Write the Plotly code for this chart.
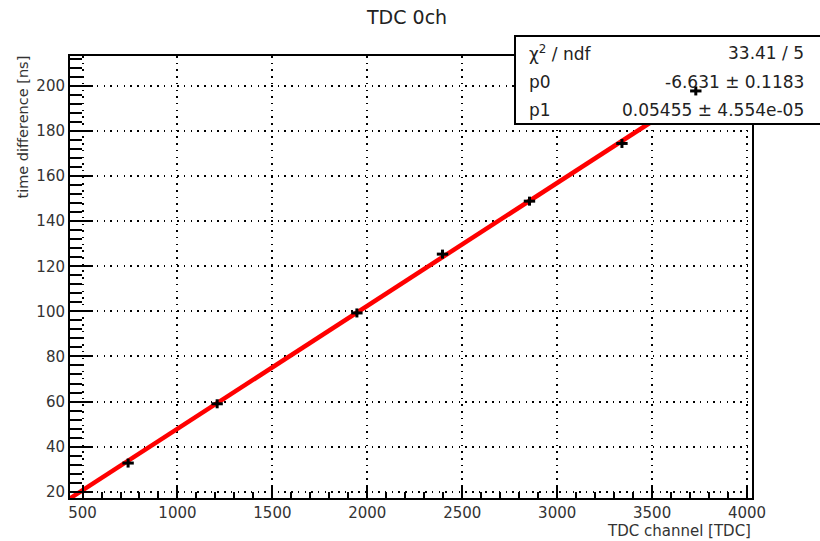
import numpy as np
import plotly.graph_objects as go

# ---- data ----
tdc_channel = [740, 1209, 1945, 2396, 2854, 3341, 3730]
time_diff = [32.7, 59.0, 99.3, 125.4, 148.9, 174.5, 197.8]
tdc_err = [30, 30, 30, 30, 30, 30, 30]
time_err = [2.0, 2.0, 2.0, 2.0, 2.0, 2.0, 2.0]

fit_p0 = -6.631
fit_p1 = 0.05455

stat_labels = ["χ<sup>2</sup> / ndf", "p0", "p1"]
stat_values = ["33.41 / 5", "-6.631 ± 0.1183", "0.05455 ± 4.554e-05"]

title_text = "TDC 0ch"
x_title = "TDC channel [TDC]"
y_title = "time difference [ns]"

x_range = [434, 4026]
y_range = [17.2, 213.3]

W, H = 820, 541
FONT = "DejaVu Sans"
PL, PR, PT, PB = 70, 752, 56, 498   # plot-area pixel edges
dom_x = [PL / W, PR / W]
dom_y = [1 - PB / H, 1 - PT / H]

fig = go.Figure()

# fit line (main subplot)
xf = np.array(x_range, dtype=float)
fig.add_trace(go.Scatter(x=xf, y=fit_p0 + fit_p1 * xf, mode="lines",
                         line=dict(color="#ff0000", width=4.5),
                         hoverinfo="skip", showlegend=False,
                         xaxis="x", yaxis="y"))

# dummy trace for full-page pixel subplot (stat box layer)
fig.add_trace(go.Scatter(x=[None], y=[None], mode="markers", showlegend=False,
                         hoverinfo="skip", xaxis="x2", yaxis="y2"))

# data points with error bars (drawn above stat box)
fig.add_trace(go.Scatter(x=tdc_channel, y=time_diff, mode="markers",
                         marker=dict(size=1, color="black", opacity=0),
                         error_x=dict(type="data", array=tdc_err, color="black",
                                      thickness=3, width=0),
                         error_y=dict(type="data", array=time_err, color="black",
                                      thickness=3, width=0),
                         showlegend=False, xaxis="x3", yaxis="y3"))

axis_common = dict(showline=True, linewidth=2, linecolor="black", mirror=True,
                   ticks="inside", tickwidth=2, tickcolor="black",
                   showgrid=True, gridcolor="black", gridwidth=1.5,
                   griddash="1.5px,5.2px", zeroline=False, automargin=False,
                   tickfont=dict(family=FONT, size=15, color="#333"))

fig.update_layout(
    width=W, height=H,
    margin=dict(l=0, r=0, t=0, b=0, pad=0),
    paper_bgcolor="white", plot_bgcolor="rgba(0,0,0,0)",
    xaxis=dict(domain=dom_x, range=x_range, tick0=0, dtick=500, ticklen=12,
               anchor="y",
               minor=dict(dtick=100, ticks="inside", ticklen=6, tickwidth=2,
                          tickcolor="black", showgrid=False),
               **axis_common),
    yaxis=dict(domain=dom_y, range=y_range, tick0=0, dtick=20, ticklen=23,
               anchor="x",
               minor=dict(dtick=4, ticks="inside", ticklen=12, tickwidth=2,
                          tickcolor="black", showgrid=False),
               **axis_common),
    xaxis2=dict(domain=[0, 1], range=[0, W], visible=False, fixedrange=True,
                anchor="y2"),
    yaxis2=dict(domain=[0, 1], range=[H, 0], visible=False, fixedrange=True,
                anchor="x2"),
    xaxis3=dict(domain=dom_x, range=x_range, visible=False, anchor="y3"),
    yaxis3=dict(domain=dom_y, range=y_range, visible=False, anchor="x3"),
)

# stats box (in pixel-coordinate subplot)
fig.add_shape(type="rect", xref="x2", yref="y2", x0=515, x1=823, y0=36, y1=124,
              line=dict(color="black", width=2), fillcolor="white", layer="below")

stat_rows_y = [53, 82, 110]
for lab, val, yy in zip(stat_labels, stat_values, stat_rows_y):
    fig.add_annotation(xref="x2", yref="y2", x=527, y=yy, text=lab, showarrow=False,
                       xanchor="left", yanchor="middle",
                       font=dict(family=FONT, size=17, color="#222"))
    fig.add_annotation(xref="x2", yref="y2", x=806, y=yy, text=val, showarrow=False,
                       xanchor="right", yanchor="middle",
                       font=dict(family=FONT, size=17, color="#222"))

# title and axis titles
fig.add_annotation(xref="x2", yref="y2", x=406, y=17, text=title_text, showarrow=False,
                   xanchor="center", yanchor="middle",
                   font=dict(family=FONT, size=19, color="#222"))
fig.add_annotation(xref="x2", yref="y2", x=753, y=531, text=x_title, showarrow=False,
                   xanchor="right", yanchor="middle",
                   font=dict(family=FONT, size=15, color="#333"))
fig.add_annotation(xref="x2", yref="y2", x=22, y=54, text=y_title, showarrow=False,
                   textangle=-90, xanchor="center", yanchor="top",
                   font=dict(family=FONT, size=14.5, color="#333"))

fig.write_html("out.html")
